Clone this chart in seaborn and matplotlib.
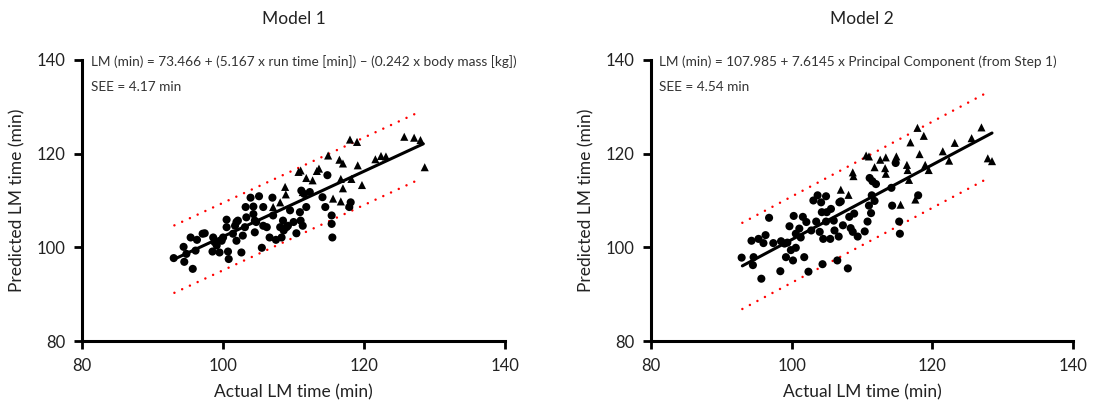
import numpy as np
import pandas as pd
import matplotlib
matplotlib.use("Agg")
import matplotlib.pyplot as plt
import seaborn as sns

# Model 1 - circles
m1_circ_x = [93.0, 94.5, 95.7, 94.4, 95.4, 96.3, 97.1, 97.4, 96.1, 94.8, 98.6, 98.8, 99.1, 98.5,
             99.5, 99.8, 100.0, 100.5, 100.5, 100.7, 100.8, 101.4, 101.7, 101.9, 102.1, 101.9,
             102.6, 102.8, 103.1, 103.3, 103.2, 103.9, 104.3, 104.3, 104.5, 104.7, 104.5, 105.1,
             105.5, 105.7, 105.7, 106.2, 106.6, 107.0, 107.1, 107.5, 108.1, 108.3, 108.5, 108.6,
             109.0, 109.2, 109.5, 110.0, 110.4, 110.9, 111.0, 111.3, 111.1, 111.5, 111.8, 112.3,
             114.1, 114.5, 114.8, 115.4, 115.4, 115.5, 118.1, 117.9]
m1_circ_y = [97.7, 96.9, 95.4, 100.1, 102.1, 101.6, 102.9, 103.0, 99.3, 98.6, 102.1, 101.1, 100.4, 99.1,
             98.9, 101.4, 102.1, 105.9, 104.3, 99.1, 97.5, 102.9, 104.6, 105.4, 105.7, 101.4,
             98.9, 102.5, 104.3, 106.4, 108.6, 110.6, 108.7, 107.1, 105.7, 105.4, 103.2, 110.9,
             99.9, 108.6, 104.6, 104.3, 102.1, 110.6, 106.8, 101.6, 104.3, 102.1, 105.7, 103.6,
             104.3, 104.6, 107.9, 105.4, 103.0, 107.5, 105.7, 104.6, 112.1, 111.4, 108.6, 111.8,
             110.7, 108.6, 115.4, 106.8, 105.0, 102.1, 109.6, 108.6]
# Model 1 - triangles
m1_tri_x = [107.1, 108.1, 108.8, 108.9, 110.7, 111.0, 111.8, 112.7, 113.3, 113.6, 114.9, 116.5,
            117.0, 118.0, 119.0, 116.7, 117.0, 115.6, 116.7, 118.2, 119.1, 119.7, 117.9, 121.6,
            122.4, 123.1, 125.7, 127.1, 128.0, 128.6, 111.3]
m1_tri_y = [108.6, 109.6, 112.9, 111.3, 116.1, 116.4, 114.8, 114.3, 116.3, 116.8, 119.6, 118.7,
            117.9, 123.0, 122.5, 114.6, 112.6, 110.4, 109.8, 114.6, 117.5, 113.3, 109.1, 118.8,
            119.5, 119.4, 123.6, 123.4, 122.9, 117.1, 111.8]

# Model 2 - circles
m2_circ_x = [92.9, 94.5, 94.6, 95.7, 94.3, 95.3, 96.0, 96.3, 96.8, 97.4, 98.4, 98.5, 99.0, 99.2,
             99.4, 99.7, 99.9, 100.2, 100.3, 100.6, 100.6, 101.1, 101.3, 101.6, 101.8, 102.1,
             102.4, 102.8, 103.1, 103.5, 103.7, 104.0, 104.2, 104.3, 104.4, 104.5, 104.9, 104.9,
             105.0, 105.5, 105.6, 106.0, 106.1, 106.5, 106.7, 106.8, 107.0, 107.3, 108.0, 108.2,
             108.4, 108.7, 108.9, 109.4, 110.4, 110.8, 111.0, 111.3, 111.4, 111.8, 111.1, 111.5,
             112.0, 114.2, 114.3, 114.8, 115.3, 115.4, 118.0]
m2_circ_y = [97.8, 96.2, 97.9, 93.3, 101.4, 101.8, 100.9, 102.6, 106.3, 100.9, 94.9, 101.3, 100.8, 97.9,
             101.0, 104.5, 99.4, 97.2, 106.7, 102.9, 99.9, 104.0, 102.1, 106.5, 97.9, 105.4,
             94.8, 103.6, 110.0, 105.5, 111.1, 103.3, 109.6, 107.5, 96.4, 101.8, 110.9, 105.5,
             107.5, 101.8, 108.2, 105.7, 103.6, 97.2, 102.3, 109.6, 109.8, 104.7, 95.5, 106.5,
             104.1, 103.3, 107.2, 102.3, 103.4, 105.5, 108.9, 107.3, 111.1, 109.9, 114.8, 114.1,
             113.5, 112.7, 108.9, 118.0, 105.5, 102.9, 111.1]
# Model 2 - triangles
m2_tri_x = [107.0, 108.1, 108.7, 108.8, 110.6, 111.0, 111.8, 112.6, 113.4, 113.3, 113.4, 114.9,
            115.5, 116.4, 116.5, 116.7, 116.9, 117.6, 117.9, 118.8, 118.2, 119.0, 119.5, 121.5,
            122.4, 123.2, 125.6, 127.0, 127.9, 128.5]
m2_tri_y = [112.3, 111.2, 116.0, 115.2, 119.6, 119.4, 117.1, 118.7, 119.2, 116.9, 115.7, 119.4,
            109.1, 117.6, 116.5, 114.4, 122.4, 110.2, 125.5, 123.8, 119.9, 117.6, 116.5, 120.5,
            118.5, 122.3, 123.3, 125.6, 119.0, 118.4]

# regression line: intercept, slope, band half-width, x range
m1_fit = dict(a=32.6, b=0.697, band=7.2, x=[93.1, 128.4], band_x=[93.1, 128.0])
m2_fit = dict(a=21.73, b=0.799, band=9.2, x=[93.0, 128.5], band_x=[93.0, 127.9])

titles = ["Model 1", "Model 2"]
equations = ["LM (min) = 73.466 + (5.167 x run time [min]) \u2013 (0.242 x body mass [kg])",
             "LM (min) = 107.985 + 7.6145 x Principal Component (from Step 1)"]
see_labels = ["SEE = 4.17 min", "SEE = 4.54 min"]
ticks = [80, 100, 120, 140]

sns.set_style("ticks")
plt.rcParams["font.family"] = ["Lato", "DejaVu Sans"]

fig = plt.figure(figsize=(10.94, 4.05), dpi=100)
axes = [fig.add_axes([0.075, 0.158, 0.3867, 0.694]),
        fig.add_axes([0.595, 0.158, 0.3857, 0.694])]

panels = [(m1_circ_x, m1_circ_y, m1_tri_x, m1_tri_y, m1_fit),
          (m2_circ_x, m2_circ_y, m2_tri_x, m2_tri_y, m2_fit)]

for i, (ax, (cx, cy, tx, ty, fit)) in enumerate(zip(axes, panels)):
    df = pd.DataFrame({
        "actual": cx + tx,
        "predicted": cy + ty,
        "grupo": ["c"] * len(cx) + ["t"] * len(tx),
    })
    sns.scatterplot(data=df, x="actual", y="predicted", style="grupo",
                    markers={"c": "o", "t": "^"}, color="black", s=34,
                    edgecolor="black", linewidth=0, legend=False, ax=ax, zorder=3)

    lx = np.array(fit["x"])
    sns.lineplot(x=lx, y=fit["a"] + fit["b"] * lx, color="black", lw=2.2, ax=ax, zorder=4)
    bx = np.array(fit["band_x"])
    for sgn in (1, -1):
        ax.plot(bx, fit["a"] + fit["b"] * bx + sgn * fit["band"], color="red",
                lw=1.8, linestyle=(0, (0.01, 3.4)), dash_capstyle="round", zorder=2)

    ax.set_xlim(80, 140)
    ax.set_ylim(80, 140)
    ax.set_xticks(ticks)
    ax.set_yticks(ticks)
    ax.tick_params(labelsize=12, width=2, length=6, direction="out", pad=6,
                   color="black", labelcolor="#222222")
    for s in ["left", "bottom"]:
        ax.spines[s].set_linewidth(2.2)
        ax.spines[s].set_color("black")
    sns.despine(ax=ax)

    ax.set_xlabel("Actual LM time (min)", fontsize=12.5, labelpad=8, color="#222222")
    ax.set_ylabel("Predicted LM time (min)", fontsize=12.5, labelpad=8, color="#222222")
    ax.set_title(titles[i], fontsize=12.5, pad=26, color="#222222")

    ax.text(0.02, 0.995, equations[i], transform=ax.transAxes, fontsize=9.8,
            ha="left", va="center", color="#333333")
    ax.text(0.02, 0.905, see_labels[i], transform=ax.transAxes, fontsize=9.8,
            ha="left", va="center", color="#333333")

fig.savefig("out.png", dpi=100, facecolor="white")
